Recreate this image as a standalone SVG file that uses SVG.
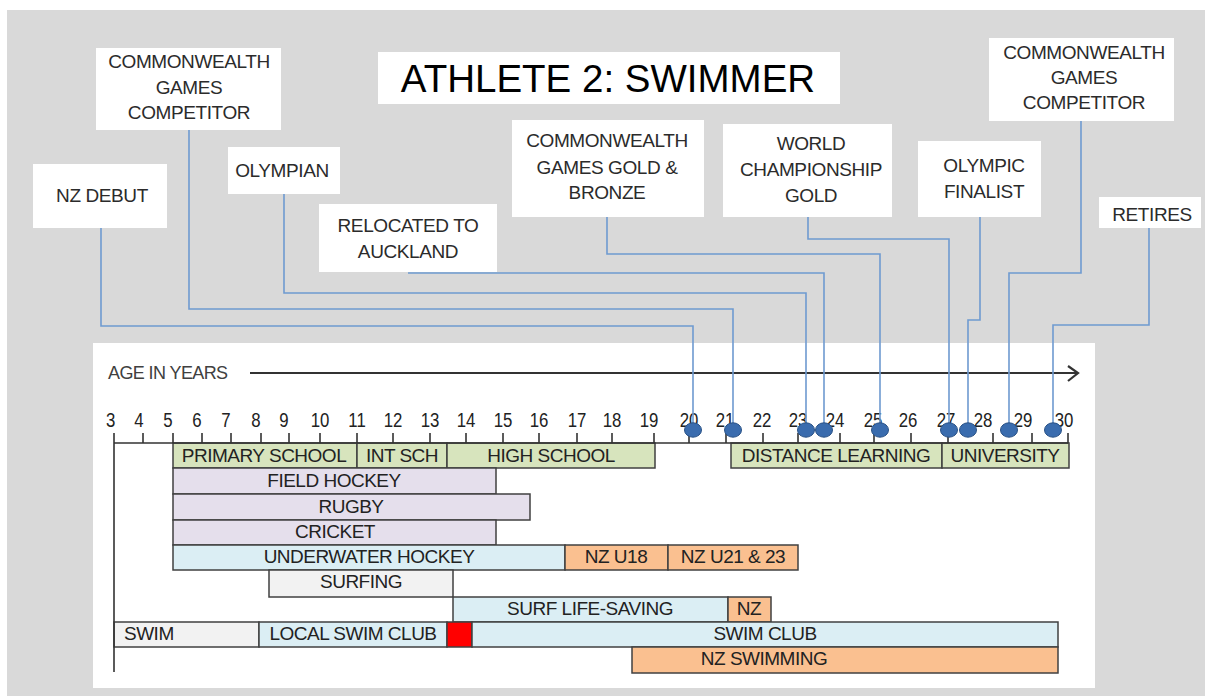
<svg xmlns="http://www.w3.org/2000/svg" width="1205" height="696" viewBox="0 0 1205 696">
  <style>
    .lbl { font-family: "Liberation Sans", Arial, sans-serif; font-size: 19px; fill: #2b2b2b; text-anchor: middle; letter-spacing: -0.4px; }
    .box { fill: #ffffff; }
    .bar { stroke: #404040; stroke-width: 1.5; }
    .bt { font-family: "Liberation Sans", Arial, sans-serif; font-size: 19px; fill: #222; text-anchor: middle; letter-spacing: -0.5px; }
    .bt.left { text-anchor: start; }
    .school { fill: #d7e4bd; }
    .sport { fill: #e5dfec; }
    .water { fill: #dbeef4; }
    .nat { fill: #fac090; }
    .grey { fill: #f2f2f2; }
    .num { font-family: "Liberation Sans", Arial, sans-serif; font-size: 21px; fill: #222; text-anchor: middle; }
    .conn { fill: none; stroke: #6e9ad0; stroke-width: 1.6; }
    .dot { fill: #3a6cae; stroke: #2a5286; stroke-width: 1; }
    .axis { stroke: #333; stroke-width: 1.6; fill: none; }
  </style>

  <!-- backdrop and chart panel -->
  <rect x="0" y="0" width="1205" height="696" fill="#ffffff"/>
  <rect x="7" y="10" width="1198" height="686" fill="#d9d9d9"/>
  <rect x="93" y="343" width="1002" height="345" fill="#ffffff"/>

  <!-- title -->
  <g id="title">
    <rect class="box" x="378" y="52" width="462" height="52"/>
    <text x="608" y="92" font-family="Liberation Sans, Arial, sans-serif" font-size="38.5" fill="#000" text-anchor="middle">ATHLETE 2: SWIMMER</text>
  </g>

  <!-- milestone labels -->
  <g id="cwg-competitor-1">
    <rect class="box" x="96" y="48" width="185" height="82"/>
    <text class="lbl" x="189" y="68">COMMONWEALTH</text>
    <text class="lbl" x="189" y="94">GAMES</text>
    <text class="lbl" x="189" y="119">COMPETITOR</text>
  </g>
  <g id="nz-debut">
    <rect class="box" x="33" y="164" width="134" height="64"/>
    <text class="lbl" x="102" y="202">NZ DEBUT</text>
  </g>
  <g id="olympian">
    <rect class="box" x="228" y="147" width="112" height="47"/>
    <text class="lbl" x="282" y="177">OLYMPIAN</text>
  </g>
  <g id="relocated">
    <rect class="box" x="319" y="204" width="178" height="68"/>
    <text class="lbl" x="408" y="232">RELOCATED TO</text>
    <text class="lbl" x="408" y="258">AUCKLAND</text>
  </g>
  <g id="cwg-gold-bronze">
    <rect class="box" x="512" y="120" width="192" height="97"/>
    <text class="lbl" x="607" y="147">COMMONWEALTH</text>
    <text class="lbl" x="607" y="174">GAMES GOLD &amp;</text>
    <text class="lbl" x="607" y="199">BRONZE</text>
  </g>
  <g id="world-gold">
    <rect class="box" x="723" y="124" width="169" height="93"/>
    <text class="lbl" x="811" y="150">WORLD</text>
    <text class="lbl" x="811" y="176">CHAMPIONSHIP</text>
    <text class="lbl" x="811" y="202">GOLD</text>
  </g>
  <g id="olympic-finalist">
    <rect class="box" x="918" y="141" width="123" height="76"/>
    <text class="lbl" x="984" y="172">OLYMPIC</text>
    <text class="lbl" x="984" y="198">FINALIST</text>
  </g>
  <g id="cwg-competitor-2">
    <rect class="box" x="989" y="38" width="185" height="83"/>
    <text class="lbl" x="1084" y="59">COMMONWEALTH</text>
    <text class="lbl" x="1084" y="84">GAMES</text>
    <text class="lbl" x="1084" y="109">COMPETITOR</text>
  </g>
  <g id="retires">
    <rect class="box" x="1099" y="197" width="102" height="31"/>
    <text class="lbl" x="1152" y="221">RETIRES</text>
  </g>

  <!-- age axis -->
  <g id="age-axis">
    <text x="108" y="379" font-family="Liberation Sans, Arial, sans-serif" font-size="18" fill="#404040" letter-spacing="-0.6">AGE IN YEARS</text>
    <path d="M250,373 H1077" stroke="#333" stroke-width="2.2" fill="none"/>
    <path d="M1068,366 L1078,373 L1068,381" stroke="#333" stroke-width="2.2" fill="none"/>
    <g transform="scale(0.8,1)">
      <text class="num" x="138.4" y="427">3</text>
      <text class="num" x="173.8" y="427">4</text>
      <text class="num" x="210" y="427">5</text>
      <text class="num" x="246.3" y="427">6</text>
      <text class="num" x="282.5" y="427">7</text>
      <text class="num" x="320" y="427">8</text>
      <text class="num" x="355" y="427">9</text>
      <text class="num" x="400" y="427">10</text>
      <text class="num" x="446.3" y="427">11</text>
      <text class="num" x="491.3" y="427">12</text>
      <text class="num" x="537.5" y="427">13</text>
      <text class="num" x="582.5" y="427">14</text>
      <text class="num" x="628.8" y="427">15</text>
      <text class="num" x="673.8" y="427">16</text>
      <text class="num" x="721.3" y="427">17</text>
      <text class="num" x="765" y="427">18</text>
      <text class="num" x="811.3" y="427">19</text>
      <text class="num" x="861.3" y="427">20</text>
      <text class="num" x="906.3" y="427">21</text>
      <text class="num" x="952.5" y="427">22</text>
      <text class="num" x="997.5" y="427">23</text>
      <text class="num" x="1043.8" y="427">24</text>
      <text class="num" x="1091.3" y="427">25</text>
      <text class="num" x="1135" y="427">26</text>
      <text class="num" x="1182.5" y="427">27</text>
      <text class="num" x="1228.8" y="427">28</text>
      <text class="num" x="1278.8" y="427">29</text>
      <text class="num" x="1330" y="427">30</text>
    </g>
  </g>

  <!-- activity bars -->
  <g id="primary-school"><rect class="bar school" x="173" y="443" width="184" height="25"/><text class="bt" x="264" y="462">PRIMARY SCHOOL</text></g>
  <g id="int-sch"><rect class="bar school" x="357" y="443" width="90" height="25"/><text class="bt" x="402" y="462">INT SCH</text></g>
  <g id="high-school"><rect class="bar school" x="447" y="443" width="208" height="25"/><text class="bt" x="551" y="462">HIGH SCHOOL</text></g>
  <g id="distance-learning"><rect class="bar school" x="731" y="443" width="211" height="25"/><text class="bt" x="836" y="462">DISTANCE LEARNING</text></g>
  <g id="university"><rect class="bar school" x="942" y="443" width="127" height="25"/><text class="bt" x="1005" y="462">UNIVERSITY</text></g>

  <g id="field-hockey"><rect class="bar sport" x="173" y="468" width="323" height="26"/><text class="bt" x="334" y="487">FIELD HOCKEY</text></g>
  <g id="rugby"><rect class="bar sport" x="173" y="494" width="357" height="26"/><text class="bt" x="351" y="513">RUGBY</text></g>
  <g id="cricket"><rect class="bar sport" x="173" y="520" width="323" height="25"/><text class="bt" x="335" y="538">CRICKET</text></g>

  <g id="underwater-hockey"><rect class="bar water" x="173" y="545" width="392" height="25"/><text class="bt" x="369" y="563">UNDERWATER HOCKEY</text></g>
  <g id="nz-u18"><rect class="bar nat" x="565" y="545" width="103" height="25"/><text class="bt" x="616" y="563">NZ U18</text></g>
  <g id="nz-u21-23"><rect class="bar nat" x="668" y="545" width="130" height="25"/><text class="bt" x="733" y="563">NZ U21 &amp; 23</text></g>

  <g id="surfing"><rect class="bar grey" x="269" y="570" width="184" height="27"/><text class="bt" x="361" y="588">SURFING</text></g>
  <g id="surf-life-saving"><rect class="bar water" x="453" y="597" width="275" height="25"/><text class="bt" x="590" y="615">SURF LIFE-SAVING</text></g>
  <g id="surf-nz"><rect class="bar nat" x="728" y="597" width="43" height="25"/><text class="bt" x="749" y="615">NZ</text></g>

  <g id="swim"><rect class="bar grey" x="114" y="622" width="145" height="25"/><text class="bt left" x="124" y="640">SWIM</text></g>
  <g id="local-swim-club"><rect class="bar water" x="259" y="622" width="188" height="25"/><text class="bt" x="353" y="640">LOCAL SWIM CLUB</text></g>
  <g id="red-marker"><rect class="bar" x="447" y="622" width="25" height="25" fill="#ff0000"/></g>
  <g id="swim-club"><rect class="bar water" x="472" y="622" width="586" height="25"/><text class="bt" x="765" y="640">SWIM CLUB</text></g>
  <g id="nz-swimming"><rect class="bar nat" x="632" y="647" width="426" height="26"/><text class="bt" x="764" y="665">NZ SWIMMING</text></g>

  <!-- axis line, ticks and left rail -->
  <g id="axis-lines">
    <path class="axis" d="M114,443 H1068 M114,433 V672"/>
    <path class="axis" d="M143,433 V443 M173,433 V443 M202,433 V443 M231,433 V443 M261,433 V443 M289,433 V443 M320,433 V443 M357,433 V443 M393,433 V443 M430,433 V443 M466,433 V443 M503,433 V443 M539,433 V443 M577,433 V443 M612,433 V443 M654,433 V443 M689,433 V443 M726,433 V443 M763,433 V443 M798,433 V443 M840,433 V443 M874,433 V443 M911,433 V443 M948,433 V443 M993,433 V443 M1032,433 V443 M1068,433 V443"/>
  </g>

  <!-- connectors from milestones to ages -->
  <g id="connectors">
    <path class="conn" d="M101,228 V326 H693 V430"/>
    <path class="conn" d="M189,130 V309 H733 V430"/>
    <path class="conn" d="M284,194 V293 H806 V430"/>
    <path class="conn" d="M408,273 H824 V430"/>
    <path class="conn" d="M607,217 V254 H880 V430"/>
    <path class="conn" d="M808,217 V239 H949 V430"/>
    <path class="conn" d="M980,217 V320 H968 V430"/>
    <path class="conn" d="M1081,121 V273 H1009 V430"/>
    <path class="conn" d="M1149,228 V325 H1053 V430"/>
    <ellipse class="dot" cx="693" cy="430" rx="8.5" ry="7.2"/>
    <ellipse class="dot" cx="733" cy="430" rx="8.5" ry="7.2"/>
    <ellipse class="dot" cx="806" cy="430" rx="8.5" ry="7.2"/>
    <ellipse class="dot" cx="824" cy="430" rx="8.5" ry="7.2"/>
    <ellipse class="dot" cx="880" cy="430" rx="8.5" ry="7.2"/>
    <ellipse class="dot" cx="949" cy="430" rx="8.5" ry="7.2"/>
    <ellipse class="dot" cx="968" cy="430" rx="8.5" ry="7.2"/>
    <ellipse class="dot" cx="1009" cy="430" rx="8.5" ry="7.2"/>
    <ellipse class="dot" cx="1053" cy="430" rx="8.5" ry="7.2"/>
  </g>
</svg>
